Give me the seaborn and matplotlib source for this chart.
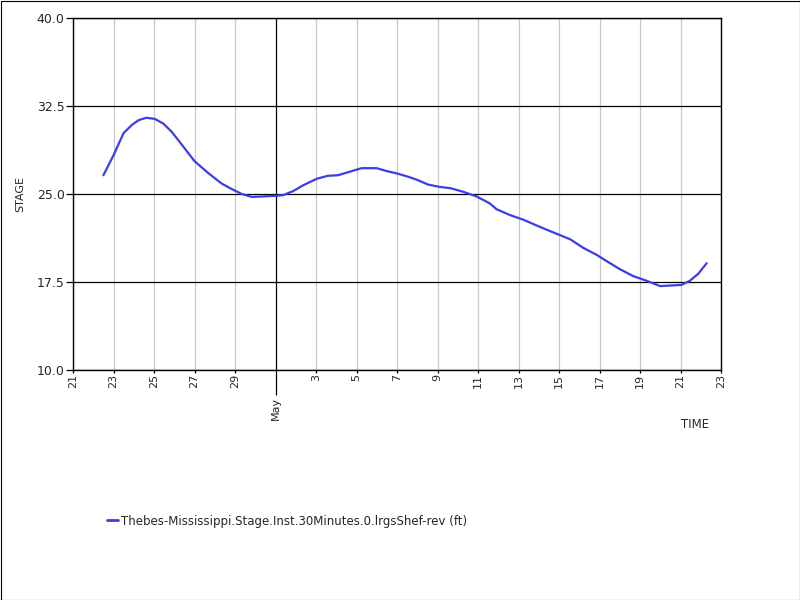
import matplotlib
matplotlib.use('Agg')
import matplotlib.pyplot as plt
import matplotlib.dates as mdates
from matplotlib.lines import Line2D
from matplotlib.patches import Rectangle
from matplotlib.ticker import FixedLocator, FixedFormatter, FormatStrFormatter
import seaborn as sns
import pandas as pd

# readings (stage in ft)
times = [
    '2019-04-22 12:00', '2019-04-23 00:00', '2019-04-23 12:00', '2019-04-23 22:00',
    '2019-04-24 06:00', '2019-04-24 15:00', '2019-04-25 01:00', '2019-04-25 11:00',
    '2019-04-25 21:00', '2019-04-26 09:00', '2019-04-27 00:00', '2019-04-27 16:00',
    '2019-04-28 08:00', '2019-04-28 18:00', '2019-04-29 08:00', '2019-04-29 20:00',
    '2019-04-30 12:00', '2019-05-01 01:00', '2019-05-01 09:00', '2019-05-01 21:00',
    '2019-05-02 09:00', '2019-05-03 01:00', '2019-05-03 14:00', '2019-05-04 02:00',
    '2019-05-04 16:00', '2019-05-05 06:00', '2019-05-06 00:00', '2019-05-06 12:00',
    '2019-05-07 00:00', '2019-05-07 12:00', '2019-05-08 00:00', '2019-05-08 13:00',
    '2019-05-09 03:00', '2019-05-09 15:00', '2019-05-10 06:00', '2019-05-10 22:00',
    '2019-05-11 06:00', '2019-05-11 14:00', '2019-05-11 22:00', '2019-05-12 14:00',
    '2019-05-13 06:00', '2019-05-13 22:00', '2019-05-14 13:00', '2019-05-15 01:00',
    '2019-05-15 13:00', '2019-05-16 05:00', '2019-05-16 21:00', '2019-05-17 08:00',
    '2019-05-18 00:00', '2019-05-18 16:00', '2019-05-19 08:00', '2019-05-20 00:00',
    '2019-05-20 12:00', '2019-05-21 01:00', '2019-05-21 11:00', '2019-05-21 21:00',
    '2019-05-22 07:00',
]
stage = [
    26.6, 28.3, 30.2, 30.9,
    31.3, 31.5, 31.4, 31.0,
    30.3, 29.2, 27.8, 26.8,
    25.9, 25.5, 25.0, 24.75,
    24.8, 24.85, 24.9, 25.25,
    25.75, 26.3, 26.55, 26.6,
    26.9, 27.2, 27.2, 26.95,
    26.75, 26.5, 26.2, 25.8,
    25.6, 25.5, 25.2, 24.8,
    24.5, 24.2, 23.7, 23.2,
    22.8, 22.3, 21.85, 21.5,
    21.15, 20.4, 19.8, 19.3,
    18.6, 18.0, 17.6, 17.15,
    17.2, 17.25, 17.6, 18.2,
    19.1,
]
series_name = 'Thebes-Mississippi.Stage.Inst.30Minutes.0.lrgsShef-rev (ft)'
y_ticks = [10.0, 17.5, 25.0, 32.5, 40.0]
x_start, x_end = '2019-04-21', '2019-05-23'
month_start = '2019-05-01'

df = pd.DataFrame({'time': pd.to_datetime(times), 'stage': stage})

sns.set_style('white')
plt.rcParams['font.family'] = ['DejaVu Sans']
plt.rcParams['font.size'] = 8

line_color = '#3c3ce8'

fig = plt.figure(figsize=(8, 6), dpi=100)
# thin frame round the whole picture
fig.patches.append(Rectangle((0.5 / 800, 0.5 / 600), 799 / 800, 599 / 600,
                             transform=fig.transFigure, fill=False,
                             edgecolor='black', linewidth=0.8))
ax = fig.add_axes([73 / 800, 1 - 370 / 600, 648 / 800, 352 / 600])

sns.lineplot(data=df, x='time', y='stage', ax=ax, color=line_color,
             linewidth=1.6, legend=False, zorder=3)

# y axis
ax.set_ylim(y_ticks[0], y_ticks[-1])
ax.set_yticks(y_ticks)
ax.yaxis.set_major_formatter(FormatStrFormatter('%.1f'))
ax.grid(axis='y', which='major', color='black', linewidth=0.9)

# x axis: every other day as minor ticks, month start as major tick
day_ticks = pd.date_range(x_start, x_end, freq='2D')
month_tick = pd.Timestamp(month_start)
minor_days = [d for d in day_ticks if d != month_tick]
ax.set_xlim(pd.Timestamp(x_start), pd.Timestamp(x_end))
ax.xaxis.set_major_locator(FixedLocator([mdates.date2num(month_tick)]))
ax.xaxis.set_major_formatter(FixedFormatter([month_tick.strftime('%b')]))
ax.xaxis.set_minor_locator(FixedLocator(mdates.date2num(minor_days)))
ax.xaxis.set_minor_formatter(FixedFormatter([str(d.day) for d in minor_days]))
ax.grid(axis='x', which='minor', color='#c8c8c8', linewidth=0.9)
ax.grid(axis='x', which='major', color='black', linewidth=0.9)
ax.set_axisbelow(True)

ax.tick_params(axis='x', which='major', length=18, width=0.9, color='black',
               labelrotation=90, pad=1, labelsize=8)
ax.tick_params(axis='x', which='minor', length=2, width=0.9, color='black',
               labelrotation=90, pad=1, labelsize=8)
ax.tick_params(axis='y', which='major', left=True, length=5, width=0.9,
               color='black', pad=1, labelsize=9)
ax.tick_params(axis='x', which='both', bottom=True)

for sp in ax.spines.values():
    sp.set_color('black')
    sp.set_linewidth(1)

ax.set_xlabel('')
ax.set_ylabel('')
fig.text(20 / 800, 1 - 194 / 600, 'STAGE', rotation=90, ha='center',
         va='center', fontsize=8)
fig.text(695 / 800, 1 - 424 / 600, 'TIME', ha='center', va='center',
         fontsize=8.5)

handle = Line2D([0], [0], color=line_color, linewidth=2)
fig.legend([handle], [series_name], loc='center left',
           bbox_to_anchor=(107 / 800, 1 - 521 / 600), frameon=False,
           handlelength=0.9, handletextpad=0.3, borderpad=0,
           borderaxespad=0, fontsize=8.5)

fig.savefig('out.png', dpi=100)
